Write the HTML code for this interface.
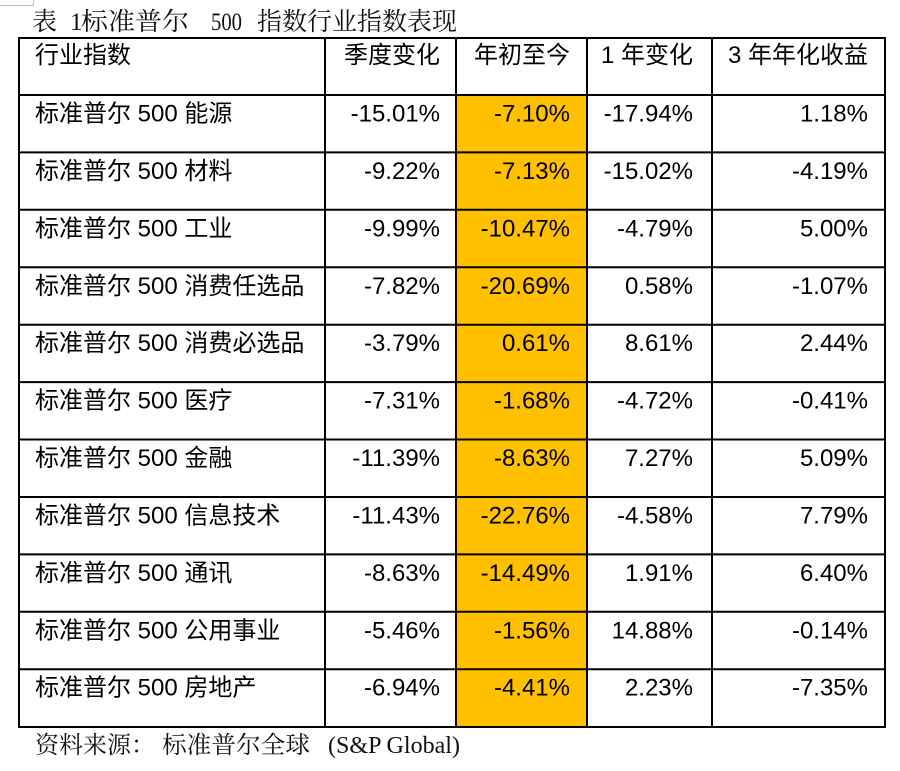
<!DOCTYPE html>
<html><head><meta charset="utf-8"><style>
html,body{margin:0;padding:0;background:#fff;}
svg{display:block;}
.s{font-family:"Liberation Sans","Noto Sans CJK SC",sans-serif;font-size:24px;fill:#000;}
.r{text-anchor:end;}
.t{font-family:"Liberation Serif","Noto Serif CJK SC",serif;font-size:25px;fill:#111;}
</style></head><body>
<svg width="900" height="771" viewBox="0 0 900 771" xmlns="http://www.w3.org/2000/svg">
<rect width="900" height="771" fill="#fff"/>
<path d="M0 5.5H34M33.5 0V6" stroke="#bbb" stroke-width="1" fill="none"/>
<!-- title -->
<text class="t" x="32" y="30">表</text>
<text class="t" x="70" y="30">1</text>
<text class="t" x="81" y="30" textLength="108" lengthAdjust="spacingAndGlyphs">标准普尔</text>
<text class="t" x="211" y="30" textLength="31" lengthAdjust="spacingAndGlyphs">500</text>
<text class="t" x="257" y="30" textLength="200" lengthAdjust="spacingAndGlyphs">指数行业指数表现</text>
<!-- orange column -->
<rect x="456" y="95" width="131" height="632" fill="#FFC000"/>
<!-- grid -->
<g stroke="#000" stroke-width="2" fill="none">
<path d="M19 38V727M325 38V727M456 38V727M587 38V727M712 38V727M885 38V727"/>
<path d="M18 38H886M18 95H886M18 152.4H886M18 209.8H886M18 267.3H886M18 324.7H886M18 382.1H886M18 439.5H886M18 497H886M18 554.4H886M18 611.8H886M18 669.2H886M18 727H886"/>
</g>
<!-- header -->
<g class="s">
<text x="35" y="63">行业指数</text>
<text class="r" x="440" y="63">季度变化</text>
<text class="r" x="570" y="63">年初至今</text>
<text class="r" x="693" y="63">1 年变化</text>
<text class="r" x="868" y="63">3 年年化收益</text>
</g>
<g class="s">
<text x="35" y="121.5">标准普尔 500 能源</text>
<text class="r" x="440" y="121.5">-15.01%</text><text class="r" x="570" y="121.5">-7.10%</text><text class="r" x="693" y="121.5">-17.94%</text><text class="r" x="868" y="121.5">1.18%</text>

<text x="35" y="178.9">标准普尔 500 材料</text>
<text class="r" x="440" y="178.9">-9.22%</text><text class="r" x="570" y="178.9">-7.13%</text><text class="r" x="693" y="178.9">-15.02%</text><text class="r" x="868" y="178.9">-4.19%</text>

<text x="35" y="236.3">标准普尔 500 工业</text>
<text class="r" x="440" y="236.3">-9.99%</text><text class="r" x="570" y="236.3">-10.47%</text><text class="r" x="693" y="236.3">-4.79%</text><text class="r" x="868" y="236.3">5.00%</text>

<text x="35" y="293.8">标准普尔 500 消费任选品</text>
<text class="r" x="440" y="293.8">-7.82%</text><text class="r" x="570" y="293.8">-20.69%</text><text class="r" x="693" y="293.8">0.58%</text><text class="r" x="868" y="293.8">-1.07%</text>

<text x="35" y="351.2">标准普尔 500 消费必选品</text>
<text class="r" x="440" y="351.2">-3.79%</text><text class="r" x="570" y="351.2">0.61%</text><text class="r" x="693" y="351.2">8.61%</text><text class="r" x="868" y="351.2">2.44%</text>

<text x="35" y="408.6">标准普尔 500 医疗</text>
<text class="r" x="440" y="408.6">-7.31%</text><text class="r" x="570" y="408.6">-1.68%</text><text class="r" x="693" y="408.6">-4.72%</text><text class="r" x="868" y="408.6">-0.41%</text>

<text x="35" y="466">标准普尔 500 金融</text>
<text class="r" x="440" y="466">-11.39%</text><text class="r" x="570" y="466">-8.63%</text><text class="r" x="693" y="466">7.27%</text><text class="r" x="868" y="466">5.09%</text>

<text x="35" y="523.5">标准普尔 500 信息技术</text>
<text class="r" x="440" y="523.5">-11.43%</text><text class="r" x="570" y="523.5">-22.76%</text><text class="r" x="693" y="523.5">-4.58%</text><text class="r" x="868" y="523.5">7.79%</text>

<text x="35" y="580.9">标准普尔 500 通讯</text>
<text class="r" x="440" y="580.9">-8.63%</text><text class="r" x="570" y="580.9">-14.49%</text><text class="r" x="693" y="580.9">1.91%</text><text class="r" x="868" y="580.9">6.40%</text>

<text x="35" y="638.3">标准普尔 500 公用事业</text>
<text class="r" x="440" y="638.3">-5.46%</text><text class="r" x="570" y="638.3">-1.56%</text><text class="r" x="693" y="638.3">14.88%</text><text class="r" x="868" y="638.3">-0.14%</text>

<text x="35" y="695.7">标准普尔 500 房地产</text>
<text class="r" x="440" y="695.7">-6.94%</text><text class="r" x="570" y="695.7">-4.41%</text><text class="r" x="693" y="695.7">2.23%</text><text class="r" x="868" y="695.7">-7.35%</text>
</g>
<!-- footer -->
<text class="t" x="35" y="753" style="font-size:24px" textLength="120" lengthAdjust="spacingAndGlyphs">资料来源：</text>
<text class="t" x="162" y="753" style="font-size:24px" textLength="148" lengthAdjust="spacingAndGlyphs">标准普尔全球</text>
<text class="t" x="328" y="753" style="font-size:24px" textLength="132" lengthAdjust="spacingAndGlyphs">(S&amp;P Global)</text>
</svg>
</body></html>
